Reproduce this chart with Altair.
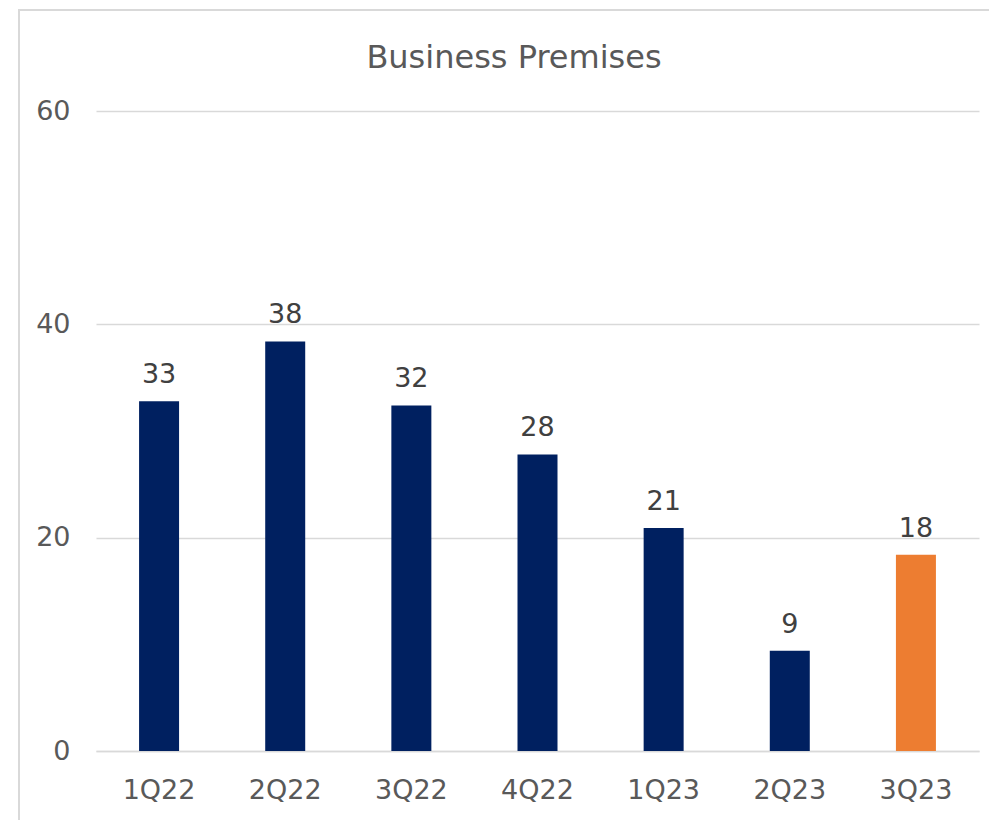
import altair as alt
import pandas as pd

categories = ["1Q22", "2Q22", "3Q22", "4Q22", "1Q23", "2Q23", "3Q23"]
values = [32.8, 38.4, 32.4, 27.8, 20.9, 9.4, 18.4]
highlight = ["no", "no", "no", "no", "no", "no", "yes"]

df = pd.DataFrame({"quarter": categories, "value": values, "hl": highlight})

FONT = "DejaVu Sans"
GRAY = "#595959"

x = alt.X("quarter:N", sort=categories, title=None,
          scale=alt.Scale(paddingInner=0, paddingOuter=0),
          axis=alt.Axis(labelAngle=0, ticks=False, domain=True, domainColor="#D9D9D9",
                        domainWidth=1.5, labelFont=FONT, labelFontSize=27,
                        labelColor=GRAY, labelPadding=26))
y = alt.Y("value:Q", title=None,
          scale=alt.Scale(domain=[0, 60], nice=False),
          axis=alt.Axis(values=[0, 20, 40, 60], ticks=False, domain=False,
                        gridColor="#D9D9D9", gridWidth=1.5, labelFont=FONT,
                        labelFontSize=27, labelColor=GRAY, labelPadding=26))

frame = alt.Chart(df).mark_rect(fill="transparent", stroke="#D9D9D9", strokeWidth=2).encode(
    x=alt.value(-77), x2=alt.value(1100), y=alt.value(-101), y2=alt.value(900)
)

bars = alt.Chart(df).mark_bar(size=40).encode(
    x=x, y=y,
    color=alt.Color("hl:N", scale=alt.Scale(domain=["no", "yes"], range=["#002060", "#ED7D31"]),
                    legend=None),
)

labels = alt.Chart(df).mark_text(baseline="alphabetic", dy=-18, font=FONT, fontSize=27,
                                 color="#404040").encode(
    x=alt.X("quarter:N", sort=categories),
    y=alt.Y("value:Q"),
    text=alt.Text("value:Q", format=".0f"),
)

title = alt.Chart(df).transform_filter(alt.datum.quarter == "1Q22").mark_text(
    baseline="alphabetic", align="center", font=FONT, fontSize=32, color=GRAY
).encode(
    x=alt.value(418), y=alt.value(-43), text=alt.value("Business Premises")
)

chart = alt.layer(frame, bars, labels, title).properties(
    width=883, height=640,
    autosize=alt.AutoSizeParams(type="none"),
    padding={"left": 96, "top": 111, "right": 10, "bottom": 69},
).configure(background="white", view=alt.ViewConfig(stroke="transparent", strokeWidth=0))

chart.save("out.html", embed_options={"renderer": "svg", "actions": False})
